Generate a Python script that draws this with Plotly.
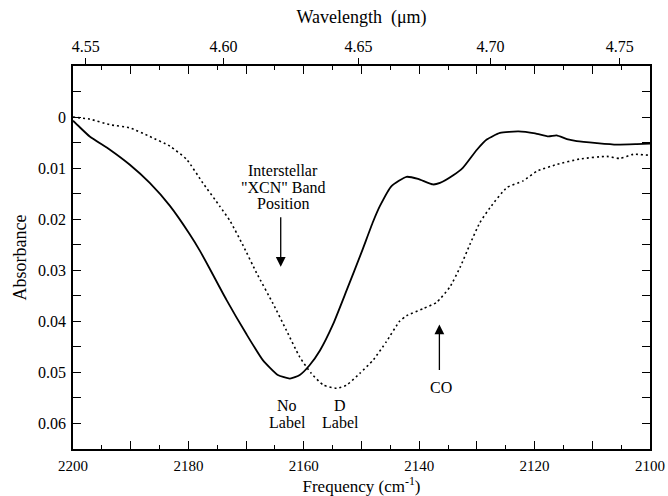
import plotly.graph_objects as go

# ---- data ----
no_label_freq = [2200.0, 2199.0, 2197.1, 2193.6, 2190.2, 2186.7, 2183.2, 2179.8, 2178.0, 2176.3,
                 2173.4, 2170.0, 2167.1, 2164.5, 2162.4, 2160.7, 2159.0, 2157.2, 2154.9, 2152.6,
                 2150.0, 2148.0, 2146.8, 2144.8, 2142.2, 2140.2, 2137.6, 2136.4, 2134.1, 2132.4,
                 2130.0, 2128.3, 2126.0, 2122.8, 2119.9, 2117.6, 2116.2, 2114.4, 2112.7, 2109.2,
                 2105.8, 2102.3, 2100.0]
no_label_abs = [0.0007, 0.0018, 0.0038, 0.0064, 0.0093, 0.0129, 0.0174, 0.0229, 0.0262, 0.0297,
                0.0358, 0.0424, 0.0476, 0.0505, 0.0512, 0.0505, 0.0486, 0.0457, 0.0405, 0.0340,
                0.0265, 0.0205, 0.0174, 0.0135, 0.0117, 0.0121, 0.0132, 0.0129, 0.0114, 0.0099,
                0.0064, 0.0044, 0.0031, 0.0028, 0.0032, 0.0038, 0.0036, 0.0043, 0.0047, 0.0051,
                0.0054, 0.0053, 0.0052]

d_label_freq = [2200.0, 2197.1, 2193.6, 2190.2, 2186.7, 2183.2, 2180.3, 2177.5, 2174.6, 2172.8,
                2170.5, 2168.2, 2165.3, 2163.0, 2160.7, 2158.7, 2156.6, 2154.3, 2152.6, 2150.3,
                2148.0, 2145.7, 2143.4, 2142.2, 2139.3, 2137.0, 2134.7, 2132.9, 2131.2, 2129.5,
                2127.7, 2124.8, 2122.0, 2119.6, 2116.2, 2112.1, 2107.5, 2105.2, 2102.9, 2100.0]
d_label_abs = [0.0000, 0.0004, 0.0015, 0.0021, 0.0038, 0.0057, 0.0083, 0.0129, 0.0174, 0.0203,
               0.0252, 0.0305, 0.0366, 0.0418, 0.0470, 0.0502, 0.0525, 0.0531, 0.0525, 0.0502,
               0.0476, 0.0440, 0.0400, 0.0389, 0.0375, 0.0363, 0.0333, 0.0294, 0.0249, 0.0207,
               0.0177, 0.0138, 0.0125, 0.0106, 0.0093, 0.0082, 0.0077, 0.0081, 0.0073, 0.0075]

freq_major = [2200, 2190, 2180, 2170, 2160, 2150, 2140, 2130, 2120, 2110, 2100]
freq_labels = ["2200", "", "2180", "", "2160", "", "2140", "", "2120", "", "2100"]
freq_minor = [2195, 2185, 2175, 2165, 2155, 2145, 2135, 2125, 2115, 2105]

abs_major = [0.0, 0.01, 0.02, 0.03, 0.04, 0.05, 0.06]
abs_labels = ["0", "0.01", "0.02", "0.03", "0.04", "0.05", "0.06"]
abs_minor = [-0.005, 0.005, 0.015, 0.025, 0.035, 0.045, 0.055]

wavelength_ticks = [4.55, 4.60, 4.65, 4.70, 4.75]
wavelength_labels = ["4.55", "4.60", "4.65", "4.70", "4.75"]

FONT = "Liberation Serif"

fig = go.Figure()
fig.add_trace(go.Scatter(x=no_label_freq, y=no_label_abs, mode="lines",
                         line=dict(color="black", width=1.8, shape="spline", smoothing=0.5),
                         showlegend=False, name="No Label"))
fig.add_trace(go.Scatter(x=d_label_freq, y=d_label_abs, mode="lines",
                         line=dict(color="black", width=1.6, dash="2px,3px", shape="spline", smoothing=0.5),
                         showlegend=False, name="D Label"))
fig.add_trace(go.Scatter(x=[], y=[], xaxis="x2", showlegend=False, hoverinfo="skip"))

tickfont = dict(family=FONT, size=16, color="black")
xtickfont = dict(family=FONT, size=15, color="black")
titlefont = dict(family=FONT, size=18, color="black")

fig.update_layout(
    width=668, height=496,
    margin=dict(l=73, r=18, t=66, b=47, autoexpand=False),
    paper_bgcolor="white", plot_bgcolor="white",
    font=dict(family=FONT, color="black"),
    xaxis=dict(range=[2200, 2100], showgrid=False, zeroline=False,
               showline=True, linecolor="black", linewidth=1.5, mirror="allticks",
               ticks="inside", ticklen=8, tickwidth=1.3, tickcolor="black",
               tickmode="array", tickvals=freq_major, ticktext=freq_labels,
               minor=dict(tickmode="array", tickvals=freq_minor, ticks="inside", ticklen=4,
                          tickwidth=1.3, tickcolor="black", showgrid=False),
               tickfont=xtickfont, ticklabelstandoff=2,
               title=dict(text="Frequency (cm<sup>-1</sup>)", font=dict(family=FONT, size=17, color="black"),
                          standoff=6),
               automargin=False),
    xaxis2=dict(range=[2200, 2100], overlaying="x", side="top", anchor="y",
                showgrid=False, zeroline=False, showline=False,
                ticks="outside", ticklen=7, tickwidth=1.3, tickcolor="black",
                tickmode="array", tickvals=[10000.0 / w for w in wavelength_ticks],
                ticktext=wavelength_labels, tickfont=tickfont,
                title=dict(text="Wavelength  (μm)", font=titlefont, standoff=9),
                automargin=False),
    yaxis=dict(range=[0.065, -0.01], showgrid=False, zeroline=False,
               showline=True, linecolor="black", linewidth=1.5, mirror="allticks",
               ticks="inside", ticklen=8, tickwidth=1.3, tickcolor="black",
               tickmode="array", tickvals=abs_major, ticktext=abs_labels,
               minor=dict(tickmode="array", tickvals=abs_minor, ticks="inside", ticklen=5,
                          tickwidth=1.3, tickcolor="black", showgrid=False),
               tickfont=tickfont, ticklabelstandoff=2,
               title=dict(text="Absorbance", font=titlefont, standoff=7),
               automargin=False),
)

ann_font = dict(family=FONT, size=16, color="black")
# Arrows
fig.add_annotation(x=2164, y=0.0293, ax=0, ay=-51, text="", showarrow=True,
                   arrowhead=2, arrowsize=1.5, arrowwidth=1.3, arrowcolor="black")
fig.add_annotation(x=2136.5, y=0.0406, ax=0, ay=47, text="", showarrow=True,
                   arrowhead=2, arrowsize=1.5, arrowwidth=1.3, arrowcolor="black")
# Text labels
for txt, xv, yv in [("Interstellar", 2163.6, 0.0105), ("\"XCN\" Band", 2163.6, 0.0137),
                    ("Position", 2163.6, 0.0169),
                    ("No", 2162.9, 0.0564), ("Label", 2162.9, 0.0599),
                    ("D", 2153.7, 0.0564), ("Label", 2153.7, 0.0599),
                    ("CO", 2136.2, 0.0529)]:
    fig.add_annotation(x=xv, y=yv, text=txt, showarrow=False, font=ann_font,
                       xanchor="center", yanchor="middle", borderpad=0)

fig.write_html("out.html", config={"displayModeBar": False},
               post_script="document.body.style.margin='0';")
